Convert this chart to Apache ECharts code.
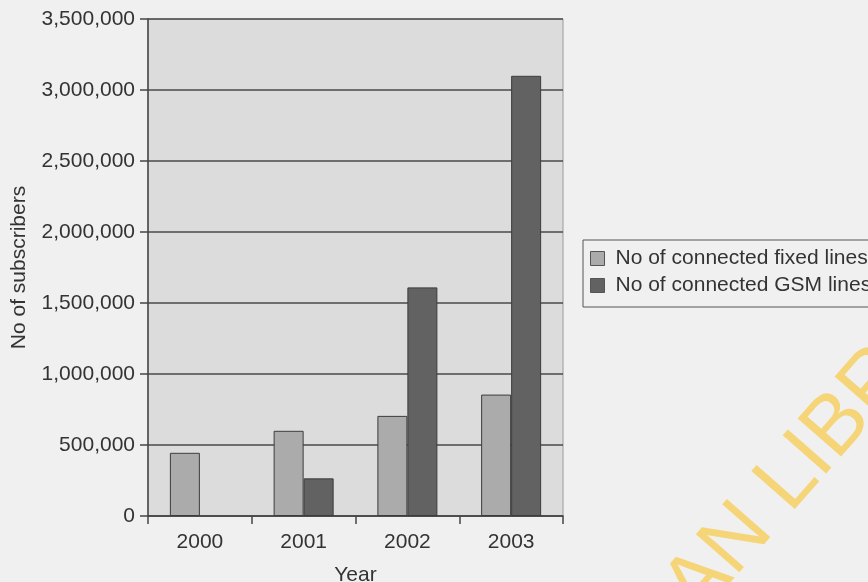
<!DOCTYPE html>
<html>
<head>
<meta charset="utf-8">
<script src="https://cdn.jsdelivr.net/npm/echarts@6/dist/echarts.min.js"></script>
<style>
  html, body { margin: 0; padding: 0; background: #f0f0f0; }
  #chart { width: 868px; height: 582px; }
</style>
</head>
<body>
<div id="chart"></div>
<script>
// data
var years = ['2000', '2001', '2002', '2003'];
var fixedLines = [445000, 600000, 705000, 855000];
var gsmLines = [null, 265000, 1610000, 3100000];
var seriesNames = ['No of connected fixed lines', 'No of connected GSM lines'];

var myChart = echarts.init(document.getElementById('chart'));
var font = 'Liberation Sans, Arial, sans-serif';

var option = {
    backgroundColor: '#f0f0f0',
    animation: false,
    textStyle: { fontFamily: font },
    grid: {
        left: 148,
        right: 305,
        top: 19,
        bottom: 66,
        containLabel: false,
        outerBoundsMode: 'none',
        show: true,
        backgroundColor: '#dcdcdc',
        borderColor: '#9a9a9a',
        borderWidth: 1
    },
    legend: {
        orient: 'vertical',
        left: 583,
        top: 240,
        padding: [8, 10, 11, 7],
        itemGap: 6,
        itemWidth: 14,
        itemHeight: 14,
        icon: 'rect',
        borderColor: '#555',
        borderWidth: 1,
        itemStyle: { borderColor: '#555', borderWidth: 1 },
        textStyle: { fontSize: 21, color: '#333', fontFamily: font, padding: [0, 0, 0, 6] },
        data: seriesNames
    },
    xAxis: {
        type: 'category',
        data: years,
        name: 'Year',
        nameLocation: 'middle',
        nameGap: 49,
        nameTextStyle: { fontSize: 21, color: '#333' },
        axisLine: { lineStyle: { color: '#444', width: 1.5 } },
        axisTick: { show: true, length: 8, lineStyle: { color: '#444', width: 1.5 } },
        axisLabel: { fontSize: 21, color: '#333', margin: 16 }
    },
    yAxis: {
        type: 'value',
        min: 0,
        max: 3500000,
        interval: 500000,
        name: 'No of subscribers',
        nameLocation: 'middle',
        nameGap: 118,
        nameTextStyle: { fontSize: 21, color: '#333' },
        axisLine: { show: true, lineStyle: { color: '#444', width: 1.5 } },
        axisTick: { show: true, length: 8, lineStyle: { color: '#444', width: 1.5 } },
        axisLabel: {
            fontSize: 21,
            color: '#333',
            margin: 13,
            padding: [6, 0, 0, 0],
            formatter: function (v) { return v.toLocaleString('en-US'); }
        },
        splitLine: { lineStyle: { color: '#4a4a4a', width: 1.5 } }
    },
    graphic: [{
        type: 'text',
        x: 712,
        y: 632,
        rotation: 0.85,
        silent: true,
        z: 100,
        style: {
            text: 'AN LIBRARY',
            font: '84px Liberation Sans',
            fill: 'rgba(246, 206, 90, 0.8)',
            align: 'left',
            verticalAlign: 'bottom'
        }
    }],
    series: [
        {
            name: seriesNames[0],
            type: 'bar',
            barWidth: 30,
            barGap: '0%',
            data: fixedLines,
            itemStyle: { color: '#ababab', borderColor: '#3c3c3c', borderWidth: 1 }
        },
        {
            name: seriesNames[1],
            type: 'bar',
            barWidth: 30,
            barGap: '0%',
            data: gsmLines,
            itemStyle: { color: '#626262', borderColor: '#3c3c3c', borderWidth: 1 }
        }
    ]
};
myChart.setOption(option);
</script>
</body>
</html>
